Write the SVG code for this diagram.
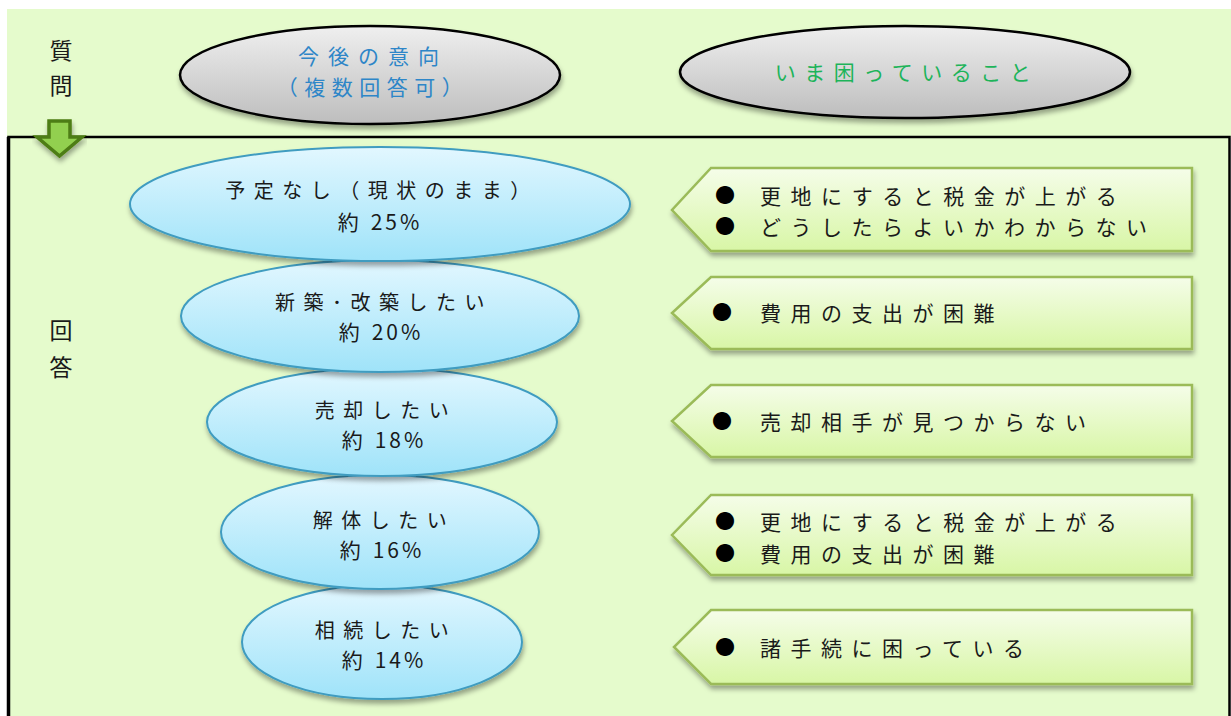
<svg xmlns="http://www.w3.org/2000/svg" width="1231" height="716" viewBox="0 0 1231 716">
<defs>
<linearGradient id="gGray" x1="0" y1="0" x2="0" y2="1"><stop offset="0" stop-color="#efefef"/><stop offset="1" stop-color="#bdbdbd"/></linearGradient>
<linearGradient id="gBlue" x1="0" y1="0" x2="0" y2="1"><stop offset="0" stop-color="#e2f7ff"/><stop offset="1" stop-color="#9fe3f9"/></linearGradient>
<linearGradient id="gCall" x1="0" y1="0" x2="0" y2="1"><stop offset="0" stop-color="#f5fde9"/><stop offset="1" stop-color="#d8f6a6"/></linearGradient>
<filter id="sh" x="-10%" y="-20%" width="120%" height="150%"><feDropShadow dx="1" dy="4" stdDeviation="2.5" flood-color="#000" flood-opacity="0.35"/></filter>
</defs>
<style>
text{font-family:"Noto Sans CJK JP","Noto Sans",sans-serif;}
.q{fill:url(#gGray);stroke:#000;stroke-width:2.5;filter:url(#sh);}
.a{fill:url(#gBlue);stroke:#3f9cc0;stroke-width:2;filter:url(#sh);}
.c{fill:url(#gCall);stroke:#9bbb59;stroke-width:2.5;filter:url(#sh);}
.et{font-size:20px;fill:#1a1a1a;letter-spacing:8.5px;text-anchor:middle;}
.pc{font-size:21px;fill:#1a1a1a;text-anchor:middle;}
.d{letter-spacing:3px;}
.ct{font-size:21px;fill:#1a1a1a;letter-spacing:9.5px;}
.bl{font-size:20px;fill:#000;}
.lb{font-size:23px;fill:#1a1a1a;text-anchor:middle;}
</style>
<rect x="0" y="0" width="1231" height="716" fill="#ffffff"/>
<rect x="7" y="9" width="1224" height="128" fill="#e5fbcc"/>
<rect id="answerBox" x="8.5" y="137" width="1221" height="590" fill="#e5fbcc" stroke="#000" stroke-width="2.5"/>
<line x1="8.5" y1="137" x2="8.5" y2="716" stroke="#000" stroke-width="3.5"/>

<g id="label-question"><text class="lb" x="61" y="59">質</text><text class="lb" x="61" y="94">問</text></g>
<g id="label-answer"><text class="lb" x="61" y="339">回</text><text class="lb" x="61" y="376">答</text></g>

<g id="q1"><ellipse class="q" cx="370" cy="75" rx="190" ry="49"/>
<text x="373" y="64" style="font-size:21px;fill:#2e86c8;letter-spacing:9px;text-anchor:middle">今後の意向</text>
<text x="373" y="95" style="font-size:21px;fill:#2e86c8;letter-spacing:6.5px;text-anchor:middle">（複数回答可）</text></g>
<g id="q2"><ellipse class="q" cx="905" cy="72" rx="225" ry="46"/>
<text x="907" y="80" style="font-size:21px;fill:#1db45a;letter-spacing:8.5px;text-anchor:middle">いま困っていること</text></g>

<g id="a5"><ellipse class="a" cx="382" cy="642" rx="140" ry="57"/>
<text class="et" x="386" y="638">相続したい</text><text class="pc" x="384" y="668">約<tspan class="d" dx="12">14%</tspan></text></g>
<g id="a4"><ellipse class="a" cx="380" cy="532" rx="159" ry="57"/>
<text class="et" x="384" y="528">解体したい</text><text class="pc" x="382" y="558">約<tspan class="d" dx="12">16%</tspan></text></g>
<g id="a3"><ellipse class="a" cx="382" cy="422" rx="175" ry="54"/>
<text class="et" x="386" y="418">売却したい</text><text class="pc" x="384" y="448">約<tspan class="d" dx="12">18%</tspan></text></g>
<g id="a2"><ellipse class="a" cx="380" cy="316" rx="199" ry="56"/>
<text class="et" x="384" y="310">新築･改築したい</text><text class="pc" x="381" y="340">約<tspan class="d" dx="12">20%</tspan></text></g>
<g id="a1"><ellipse class="a" cx="380" cy="204" rx="250" ry="57"/>
<text class="et" x="382" y="198">予定なし（現状のまま）</text><text class="pc" x="380" y="230">約<tspan class="d" dx="12">25%</tspan></text></g>

<g id="c1"><polygon class="c" points="711,168 1192,168 1192,251 711,251 672,210"/>
<text class="bl" x="715" y="203">●</text><text class="bl" x="715" y="234">●</text>
<text class="ct" x="760" y="204">更地にすると税金が上がる</text>
<text class="ct" x="760" y="235">どうしたらよいかわからない</text></g>
<g id="c2"><polygon class="c" points="711,277 1192,277 1192,349 711,349 672,313"/>
<text class="bl" x="712" y="320">●</text>
<text class="ct" x="760" y="321">費用の支出が困難</text></g>
<g id="c3"><polygon class="c" points="711,385 1192,385 1192,457 711,457 672,421"/>
<text class="bl" x="712" y="429">●</text>
<text class="ct" x="760" y="430">売却相手が見つからない</text></g>
<g id="c4"><polygon class="c" points="711,495 1192,495 1192,575 711,575 672,535"/>
<text class="bl" x="715" y="529">●</text><text class="bl" x="715" y="561">●</text>
<text class="ct" x="760" y="530">更地にすると税金が上がる</text>
<text class="ct" x="760" y="562">費用の支出が困難</text></g>
<g id="c5"><polygon class="c" points="711,610 1192,610 1192,684 711,684 674,647"/>
<text class="bl" x="715" y="655">●</text>
<text class="ct" x="760" y="656">諸手続に困っている</text></g>

<g id="arrow"><polygon points="49,121 70,121 70,137 82,137 59.5,156 37,137 49,137" fill="#92d050" stroke="#4e7d12" stroke-width="3.5" stroke-linejoin="miter" filter="url(#sh)"/></g>
</svg>
